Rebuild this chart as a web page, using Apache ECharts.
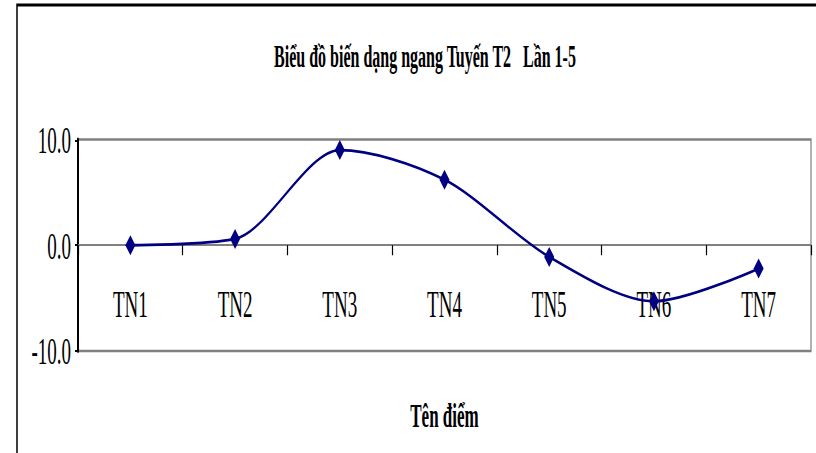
<!DOCTYPE html>
<html>
<head>
<meta charset="utf-8">
<script src="https://cdn.jsdelivr.net/npm/echarts@6/dist/echarts.min.js"></script>
<style>
html,body{margin:0;padding:0;background:#fff;overflow:hidden;}
#wrap{width:816px;height:453px;overflow:hidden;position:relative;background:#fff;}
#chart{width:816px;height:226.5px;transform:scaleY(2);transform-origin:0 0;}
</style>
</head>
<body>
<div id="wrap"><div id="chart"></div></div>
<script>
const titleText = 'Biểu đồ biến dạng ngang Tuyến T2   Lần 1-5';
const xAxisName = 'Tên điểm';
const categories = ['TN1', 'TN2', 'TN3', 'TN4', 'TN5', 'TN6', 'TN7'];
const values = [0.0, 0.6, 9.0, 6.2, -1.1, -5.3, -2.2];
const yMin = -10, yMax = 10, yStep = 10;

const chart = echarts.init(document.getElementById('chart'), null, {renderer: 'svg'});
chart.setOption({
  backgroundColor: '#fff',
  animation: false,
  title: {
    text: titleText,
    left: 420,
    top: 15,
    textAlign: 'center',
    textStyle: {fontFamily: 'Liberation Serif', fontWeight: 'bold', fontSize: 16, color: '#000'}
  },
  graphic: [{
    type: 'rect',
    shape: {x: 17, y: 2.5, width: 1000, height: 400},
    style: {fill: 'none', stroke: '#000', lineWidth: 1.5},
    silent: true
  }],
  grid: {
    left: 78, right: 5, top: 69.75, bottom: 51.5,
    outerBoundsMode: 'none',
    containLabel: false,
    show: true, borderColor: '#808080', borderWidth: 1.2, backgroundColor: '#fff'
  },
  xAxis: {
    type: 'category',
    data: categories,
    boundaryGap: true,
    name: xAxisName,
    nameLocation: 'middle',
    nameGap: 24,
    nameMoveOverlap: false,
    nameTextStyle: {fontFamily: 'Liberation Serif', fontWeight: 'bold', fontSize: 17, color: '#000'},
    axisLine: {onZero: true, lineStyle: {color: '#808080', width: 1}},
    axisTick: {show: true, inside: false, length: 5, lineStyle: {color: '#000', width: 1.2}},
    axisLabel: {inside: true, fontFamily: 'Liberation Serif', fontSize: 19, color: '#000', margin: 14}
  },
  yAxis: {
    type: 'value',
    min: yMin, max: yMax, interval: yStep,
    splitLine: {show: false},
    axisLine: {show: true, lineStyle: {color: '#000', width: 2}},
    axisTick: {show: true, length: 3, lineStyle: {color: '#000', width: 1}},
    axisLabel: {fontFamily: 'Liberation Serif', fontSize: 19, color: '#000', margin: 7,
      formatter: v => v.toFixed(1)}
  },
  series: [{
    type: 'line',
    data: values,
    smooth: 0.3,
    symbol: 'diamond',
    symbolSize: 10,
    showAllSymbol: true,
    lineStyle: {color: '#000080', width: 1.4},
    itemStyle: {color: '#000080'},
    z: 5
  }]
});
</script>
</body>
</html>
